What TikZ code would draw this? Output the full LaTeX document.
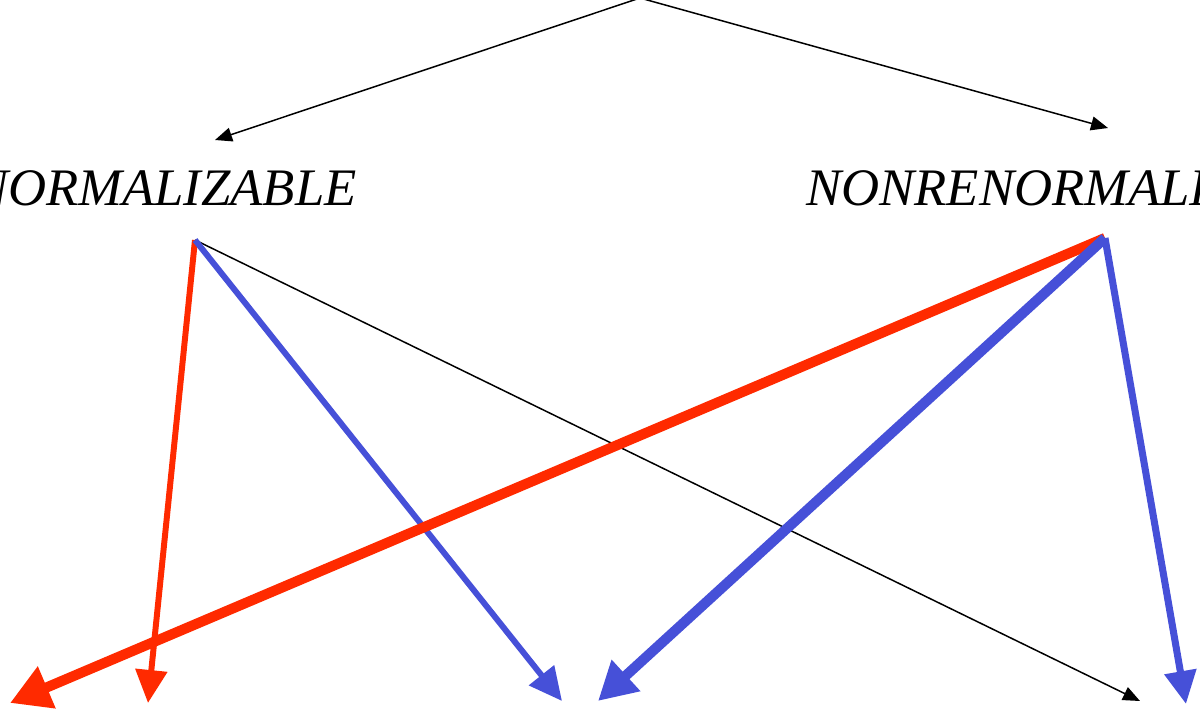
\documentclass[tikz,border=0pt]{standalone}
\usepackage{fontspec}
\setmainfont{Liberation Serif}
\usetikzlibrary{arrows.meta}
\definecolor{RGRed}{HTML}{FF2A00}
\definecolor{RGBlue}{HTML}{4650D8}

\begin{document}
\begin{tikzpicture}[x=0.02cm,y=-0.02cm,
  thinblack/.style={black,line width=0.85pt,-{Triangle[length=0.34cm,width=0.28cm]}},
  heavyline/.style={line width=5.8pt,-{Triangle[length=0.8cm,width=0.86cm]}},
  lightline/.style={line width=3.4pt,-{Triangle[length=0.66cm,width=0.62cm]}},
  label/.style={font=\fontsize{30}{36}\selectfont\itshape,inner sep=0pt}]
\path[use as bounding box] (0,0) rectangle (1200,708);
\coordinate (root) at (640,-2);
\node[label,anchor=base east] (renorm) at (357,205) {RENORMALIZABLE};
\node[label,anchor=base west] (nonrenorm) at (806,205) {NONRENORMALIZABLE};
\coordinate (rnfoot) at (195,240);
\coordinate (nrfoot) at (1105,238);
% bottom ends
\coordinate (e1) at (10,703);
\coordinate (e2) at (148,703);
\coordinate (e3) at (562,701);
\coordinate (e4) at (598,701);
\coordinate (e5) at (1140,701);
\coordinate (e6) at (1186,704);
\draw[thinblack] (root) -- (215,140);
\draw[thinblack] (root) -- (1108,128);
\draw[thinblack] (rnfoot) -- (e5);
\draw[RGRed,lightline] (rnfoot) -- (e2);
\draw[RGBlue,lightline] (rnfoot) -- (e3);
\draw[RGRed,heavyline] (nrfoot) -- (e1);
\draw[RGBlue,heavyline,-{Triangle[length=0.76cm,width=0.8cm]}] (nrfoot) -- (e4);
\draw[RGBlue,lightline,line width=4pt] (nrfoot) -- (e6);
\end{tikzpicture}
\end{document}
